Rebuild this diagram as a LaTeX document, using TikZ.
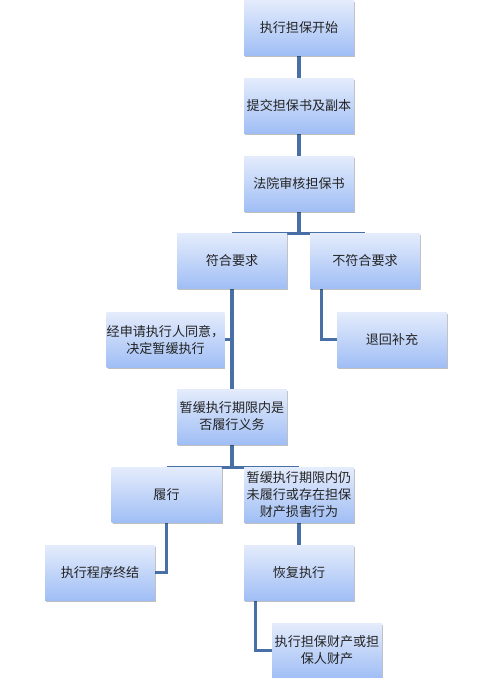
\documentclass[tikz,border=0pt]{standalone}
\usepackage{fontspec}
\newfontfamily\cjk{Noto Sans CJK SC}
\usetikzlibrary{shadows,backgrounds,calc}
\definecolor{linec}{RGB}{72,112,166}
\definecolor{boxtop}{RGB}{228,236,252}
\definecolor{boxbot}{RGB}{160,190,245}
\definecolor{txt}{RGB}{35,35,35}
\tikzset{
  box/.style={rectangle, minimum width=82.5pt, minimum height=41.25pt, inner sep=0pt,
    top color=boxtop, bottom color=boxbot, draw=none, text=txt, align=center,
    font=\cjk\fontsize{9.8}{12.75}\selectfont,
    drop shadow={shadow xshift=0.8pt, shadow yshift=-1.2pt, fill=black, opacity=0.25}},
  conn/.style={draw=linec, line width=2.5pt}
}
\begin{document}
\begin{tikzpicture}[x=0.75pt,y=-0.75pt]
\useasboundingbox (0,0) rectangle (493,678);
\node[box] (b1) at (299,27.5) {执行担保开始};
\node[box] (b2) at (299,105.5) {提交担保书及副本};
\node[box] (b3) at (299,183.5) {法院审核担保书};
\node[box] (fh) at (232,261) {符合要求};
\node[box] (bf) at (365,261) {不符合要求};
\node[box] (sq) at (165.5,339.5) {经申请执行人同意，\\决定暂缓执行};
\node[box] (th) at (392,339.5) {退回补充};
\node[box] (q) at (232,416.5) {暂缓执行期限内是\\否履行义务};
\node[box] (lx) at (166.5,495) {履行};
\node[box] (wl) at (299,495) {暂缓执行期限内仍\\未履行或存在担保\\财产损害行为};
\node[box] (zj) at (100,572.5) {执行程序终结};
\node[box] (hf) at (299,572.5) {恢复执行};
\node[box] (zc) at (327,650.5) {执行担保财产或担\\保人财产};
\begin{pgfonlayer}{background}
\draw[conn] (b1.south) -- (b2.north);
\draw[conn] (b2.south) -- (b3.north);
\draw[conn] (b3.south) -- (b3.south |- fh.north);
\draw[conn] (fh.north) -- (bf.north);
\draw[conn] (fh.south) -- (fh.south |- q.north);
\draw[conn] (sq.east) -- (fh.south |- sq.east);
\draw[conn] ($(bf.south west)+(12,0)$) |- (th.west);
\draw[conn] (q.south) -- (q.south |- lx.north);
\draw[conn] (lx.north) -- (wl.north);
\draw[conn] (lx.south) |- (zj.east);
\draw[conn] (wl.south) -- (hf.north);
\draw[conn] ($(hf.south west)+(12,0)$) |- (zc.west);
\end{pgfonlayer}
\end{tikzpicture}
\end{document}
